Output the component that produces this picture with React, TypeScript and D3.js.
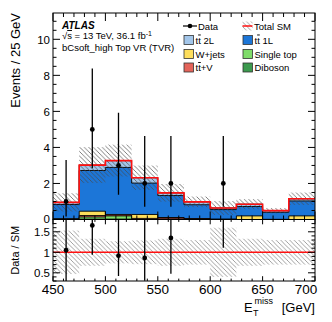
import React from "react";
import * as d3 from "d3";

const binEdges = [450, 475, 500, 525, 550, 575, 600, 625, 650, 675, 700];
const dataCounts = [1, 5, 3, 2, 2, 0, 2, 0, 0, 0];
const dataErrLow = [0.83, 2.16, 1.63, 1.29, 1.29, 0, 1.29, 0, 0, 0];
const dataErrHigh = [2.3, 3.38, 2.92, 2.64, 2.64, 0, 2.64, 0, 0, 0];

const diboson = [0, 0.02, 0.02, 0, 0.01, 0, 0, 0, 0, 0];
const singleTop = [0.01, 0.12, 0.18, 0, 0.02, 0.02, 0, 0, 0, 0];
const ttV = [0.01, 0.08, 0.06, 0.06, 0.08, 0.02, 0.01, 0, 0, 0];
const wjets = [0.02, 0.24, 0.02, 0.22, 0, 0.01, 0.01, 0.2, 0.01, 0.2];
const tt1L = [0.79, 2.26, 2.61, 1.74, 1.22, 0.77, 0.53, 0.52, 0.39, 0.83];
const tt2L = [0.12, 0.3, 0.38, 0.3, 0.15, 0.16, 0.09, 0.13, 0.09, 0.12];
const sysRel = [0.53, 0.33, 0.27, 0.29, 0.33, 0.3, 0.6, 0.33, 0.3, 0.3];

const layerKeys = ["diboson", "singleTop", "ttV", "wjets", "tt1L", "tt2L"];
const layerColors: Record<string, string> = {
  diboson: "#3c9a4e",
  singleTop: "#7fdc6a",
  ttV: "#e4645a",
  wjets: "#fede5c",
  tt1L: "#1c76d8",
  tt2L: "#a3c6ea",
};

const xTickMajor = [450, 500, 550, 600, 650, 700];
const yTickMajor = [0, 2, 4, 6, 8, 10];
const rTickMajor = [0.5, 1, 1.5];

const W = 332, H = 322;
const L = 53, R = 315;
const mainTop = 13, mainBot = 219.5, ratTop = 219.5, ratBot = 281;
const font = "'Liberation Sans', Arial, Helvetica, sans-serif";

export default function App() {
  const x = d3.scaleLinear().domain([450, 700]).range([L, R]);
  const y = d3.scaleLinear().domain([0, 11.46]).range([mainBot, mainTop]);
  const yr = d3.scaleLinear().domain([0.3, 1.8]).range([ratBot, ratTop]);

  const rows = binEdges.slice(0, -1).map((e, i) => ({
    lo: e, hi: binEdges[i + 1],
    diboson: diboson[i], singleTop: singleTop[i], ttV: ttV[i], wjets: wjets[i], tt1L: tt1L[i], tt2L: tt2L[i],
  }));
  const stacked = d3.stack<any>().keys(layerKeys)(rows);
  const total = rows.map((_, i) => stacked[stacked.length - 1][i][1]);

  const stepPts = (vals: number[]) => {
    const pts = vals.map((v, i) => [binEdges[i], v] as [number, number]);
    pts.push([binEdges[binEdges.length - 1], vals[vals.length - 1]]);
    return pts;
  };
  const area = d3.area<[number, number]>().x(d => x(d[0])).y0(y(0)).y1(d => y(d[1])).curve(d3.curveStepAfter);
  const line = d3.line<[number, number]>().x(d => x(d[0])).y(d => y(d[1])).curve(d3.curveStepAfter);

  const xMinor = d3.range(450, 701, 10);
  const yMinor = d3.range(0, 11.46, 0.5);
  const rMinor = d3.range(0.3, 1.801, 0.1);

  const tickStroke = { stroke: "#000", strokeWidth: 1 };

  return (
    <svg width={W} height={H} style={{ position: "fixed", left: 0, top: 0, background: "#fff" }} fontFamily={font}>
      <defs>
        <pattern id="hatch" patternUnits="userSpaceOnUse" width="4.5" height="4.5">
          <path d="M-1,-1 L5.5,5.5 M-1,3.5 L1,5.5 M3.5,-1 L5.5,1" stroke="#4a4a4a" strokeWidth="0.7" />
        </pattern>
        <pattern id="hatchR" patternUnits="userSpaceOnUse" width="4.5" height="4.5">
          <path d="M-1,-1 L5.5,5.5 M-1,3.5 L1,5.5 M3.5,-1 L5.5,1" stroke="#8a8a8a" strokeWidth="0.8" />
        </pattern>
        <clipPath id="clipMain"><rect x={L} y={mainTop} width={R - L} height={mainBot - mainTop} /></clipPath>
        <clipPath id="clipRat"><rect x={L} y={ratTop} width={R - L} height={ratBot - ratTop} /></clipPath>
      </defs>
      <rect width={W} height={H} fill="#fff" />

      {/* main panel */}
      <g clipPath="url(#clipMain)">
        {[...stacked].reverse().map(layer => {
          const vals = layer.map(d => d[1]);
          return (
            <g key={layer.key}>
              <path d={area(stepPts(vals)) || ""} fill={layerColors[layer.key]} />
              <path d={line(stepPts(vals)) || ""} fill="none" stroke="#000" strokeWidth={0.9} />
            </g>
          );
        })}
        {rows.map((r, i) => (
          <rect key={i} x={x(r.lo)} width={x(r.hi) - x(r.lo)} y={y(total[i] * (1 + sysRel[i]))}
            height={y(total[i] * (1 - sysRel[i])) - y(total[i] * (1 + sysRel[i]))} fill="url(#hatch)" />
        ))}
        <path d={line(stepPts(total)) || ""} fill="none" stroke="#f11" strokeWidth={1.6} />
        {rows.map((r, i) => dataCounts[i] > 0 ? (
          <g key={i}>
            <line x1={x((r.lo + r.hi) / 2)} x2={x((r.lo + r.hi) / 2)} y1={y(dataCounts[i] - dataErrLow[i])}
              y2={y(dataCounts[i] + dataErrHigh[i])} stroke="#000" strokeWidth={1.3} />
            <circle cx={x((r.lo + r.hi) / 2)} cy={y(dataCounts[i])} r={2.4} fill="#000" />
          </g>
        ) : null)}
      </g>

      {/* ratio panel */}
      <g clipPath="url(#clipRat)">
        {rows.map((r, i) => (
          <rect key={i} x={x(r.lo)} width={x(r.hi) - x(r.lo)} y={yr(1 + sysRel[i])}
            height={yr(1 - sysRel[i]) - yr(1 + sysRel[i])} fill="url(#hatchR)" />
        ))}
        <line x1={L} x2={R} y1={yr(1)} y2={yr(1)} stroke="#f11" strokeWidth={1.6} />
        {rows.map((r, i) => dataCounts[i] > 0 ? (
          <g key={i}>
            <line x1={x((r.lo + r.hi) / 2)} x2={x((r.lo + r.hi) / 2)}
              y1={yr((dataCounts[i] - dataErrLow[i]) / total[i])}
              y2={yr((dataCounts[i] + dataErrHigh[i]) / total[i])} stroke="#000" strokeWidth={1.3} />
            <circle cx={x((r.lo + r.hi) / 2)} cy={yr(dataCounts[i] / total[i])} r={2.4} fill="#000" />
          </g>
        ) : null)}
      </g>

      {/* frames */}
      <rect x={L} y={mainTop} width={R - L} height={mainBot - mainTop} fill="none" stroke="#000" strokeWidth={1} />
      <rect x={L} y={ratTop} width={R - L} height={ratBot - ratTop} fill="none" stroke="#000" strokeWidth={1} />

      {/* x ticks */}
      {xMinor.map(v => {
        const len = xTickMajor.includes(v) ? 8 : 4;
        const xx = x(v);
        return (
          <g key={v}>
            <line x1={xx} x2={xx} y1={mainTop} y2={mainTop + len} {...tickStroke} />
            <line x1={xx} x2={xx} y1={mainBot} y2={mainBot - len} {...tickStroke} />
            <line x1={xx} x2={xx} y1={ratTop} y2={ratTop + len * 0.6} {...tickStroke} />
            <line x1={xx} x2={xx} y1={ratBot} y2={ratBot - len * 0.6} {...tickStroke} />
          </g>
        );
      })}
      {/* y ticks main */}
      {yMinor.map(v => {
        const len = yTickMajor.includes(v) ? 7 : 3.5;
        const yy = y(v);
        return (
          <g key={v}>
            <line x1={L} x2={L + len} y1={yy} y2={yy} {...tickStroke} />
            <line x1={R} x2={R - len} y1={yy} y2={yy} {...tickStroke} />
          </g>
        );
      })}
      {rMinor.map((v, i) => {
        const major = rTickMajor.some(m => Math.abs(m - v) < 1e-6);
        const len = major ? 7 : 3.5;
        const yy = yr(v);
        return (
          <g key={i}>
            <line x1={L} x2={L + len} y1={yy} y2={yy} {...tickStroke} />
            <line x1={R} x2={R - len} y1={yy} y2={yy} {...tickStroke} />
          </g>
        );
      })}

      {/* tick labels */}
      {yTickMajor.map(v => (
        <text key={v} x={L - 3} y={y(v) + (v === 0 ? 3 : 4.2)} fontSize={11.5} textAnchor="end">{v}</text>
      ))}
      {rTickMajor.map(v => (
        <text key={v} x={L - 3} y={yr(v) + 4.5} fontSize={11.5} textAnchor="end">{v}</text>
      ))}
      {xTickMajor.map((v, i) => (
        <text key={v} x={x(v) + (i === xTickMajor.length - 1 ? -9 : 0)} y={294} fontSize={13.5} textAnchor="middle">{v}</text>
      ))}

      {/* axis titles */}
      <text transform={`translate(20,${mainTop}) rotate(-90)`} fontSize={13} textAnchor="end">Events / 25 GeV</text>
      <text transform={`translate(19,${(ratTop + ratBot) / 2}) rotate(-90)`} fontSize={11} textAnchor="middle">Data / SM</text>
      <g fontSize={13}>
        <text x={R} y={312} textAnchor="end">[GeV]</text>
        <text x={244} y={312}>E</text>
        <text x={253} y={316} fontSize={9}>T</text>
        <text x={254.5} y={304} fontSize={9}>miss</text>
      </g>

      {/* labels */}
      <text x={62} y={28.5} fontSize={10} fontWeight="bold" fontStyle="italic">ATLAS</text>
      <text x={62} y={39} fontSize={9.5}>
        √<tspan style={{ textDecoration: "overline" }}>s</tspan> = 13 TeV, 36.1 fb<tspan dy={-3.5} fontSize={7}>-1</tspan>
      </text>
      <text x={62} y={51} fontSize={9.5}>bCsoft_high Top VR (TVR)</text>

      {/* legend */}
      <g fontSize={9.5}>
        <line x1={183} x2={197} y1={26} y2={26} stroke="#000" strokeWidth={1.2} />
        <circle cx={190} cy={26} r={2.3} fill="#000" />
        <text x={198} y={29.5}>Data</text>

        <rect x={242.5} y={21.5} width={10} height={9} fill="url(#hatchR)" />
        <line x1={242.5} x2={252.5} y1={26} y2={26} stroke="#f11" strokeWidth={1.5} />
        <text x={254} y={29.5}>Total SM</text>

        {[
          ["tt2L", 184, 40, "2L"], ["tt1L", 243, 40, "1L"],
          ["wjets", 184, 54, "W+jets"], ["singleTop", 243, 54, "Single top"],
          ["ttV", 184, 67.5, "+V"], ["diboson", 243, 67.5, "Diboson"],
        ].map(([k, bx, cy, lab]) => (
          <g key={k as string}>
            <rect x={bx as number} y={(cy as number) - 4.5} width={9.5} height={9} fill={layerColors[k as string]} stroke="#333" strokeWidth={0.8} />
            <text x={(bx as number) + 11.5} y={(cy as number) + 3.5}>
              {k === "tt2L" || k === "tt1L" ? (<>t<tspan style={{ textDecoration: "overline" }}>t</tspan> {lab}</>) :
                k === "ttV" ? (<>t<tspan style={{ textDecoration: "overline" }}>t</tspan>{lab}</>) : lab}
            </text>
          </g>
        ))}
      </g>
    </svg>
  );
}
